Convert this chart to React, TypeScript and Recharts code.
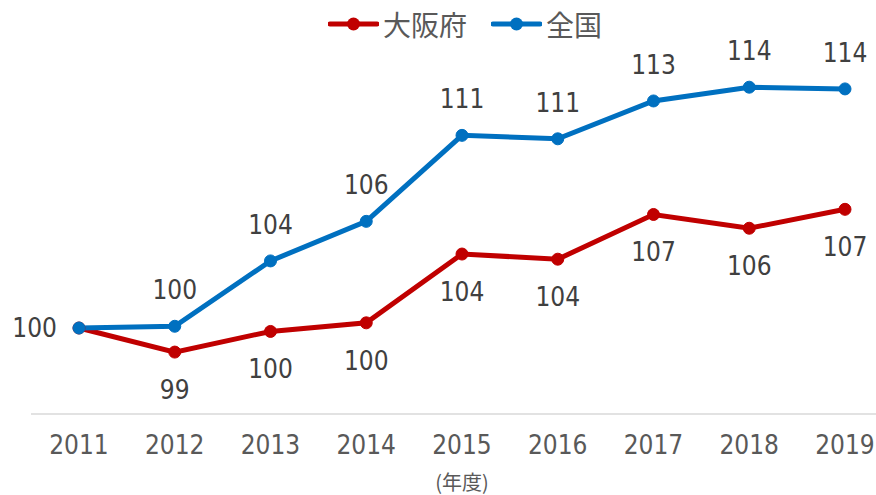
import { LineChart, Line, XAxis, YAxis, LabelList } from "recharts";

const years = ["2011", "2012", "2013", "2014", "2015", "2016", "2017", "2018", "2019"];
const osaka = [100, 98.6, 99.8, 100.3, 104.3, 104.0, 106.6, 105.8, 106.9];
const zenkoku = [100, 100.1, 103.9, 106.2, 111.2, 111.0, 113.2, 114.0, 113.9];

const RED = "#C00000";
const BLUE = "#0070C0";
const NUM_FONT = "'DejaVu Sans Condensed', 'DejaVu Sans', sans-serif";
const JP_FONT = "'Noto Sans CJK JP', sans-serif";

const chartData = years.map((y, i) => ({ year: y, osaka: osaka[i], zenkoku: zenkoku[i] }));

// labels: 全国 above (first one to the left), 大阪府 below (first one skipped)
const makeLabel = (where: "above" | "below") => (props: any) => {
    const { x, y, value, index } = props;
    if (where === "below" && index === 0) return null;
    let tx = x;
    let ty = where === "above" ? y - 36 : y + 38;
    let anchor: "middle" | "end" = "middle";
    if (where === "above" && index === 0) {
        tx = x - 22;
        ty = y;
        anchor = "end";
    }
    return (
        <text
            x={tx}
            y={ty}
            textAnchor={anchor}
            dominantBaseline="central"
            fill="#404040"
            fontSize={26}
            fontFamily={NUM_FONT}
        >
            {Math.round(value)}
        </text>
    );
};

const LegendItem = ({ color, label }: { color: string; label: string }) => (
    <div style={{ display: "flex", alignItems: "center", gap: 4 }}>
        <svg width={51} height={14}>
            <line x1={2} y1={7} x2={49} y2={7} stroke={color} strokeWidth={5} strokeLinecap="round" />
            <circle cx={25.5} cy={7} r={6.5} fill={color} />
        </svg>
        <span style={{ fontFamily: JP_FONT, fontSize: 28, color: "#595959", lineHeight: "30px" }}>{label}</span>
    </div>
);

export default function App() {
    return (
        <div style={{ position: "absolute", left: 0, top: 0, width: 876, height: 495, background: "#fff" }}>
            <div
                style={{
                    position: "absolute",
                    top: 9,
                    left: 328,
                    display: "flex",
                    alignItems: "center",
                    gap: 24,
                }}
            >
                <LegendItem color={RED} label="大阪府" />
                <LegendItem color={BLUE} label="全国" />
            </div>
            <LineChart width={876} height={495} data={chartData} margin={{ top: 70, right: 0, left: 31, bottom: 0 }}>
                <XAxis
                    dataKey="year"
                    height={81}
                    padding={{ left: 48, right: 31 }}
                    axisLine={{ stroke: "#D9D9D9", strokeWidth: 1.5 }}
                    tickLine={false}
                    tickMargin={16}
                    interval={0}
                    tick={{ fill: "#595959", fontSize: 26, fontFamily: NUM_FONT }}
                />
                <YAxis hide domain={[95, 115]} />
                <Line
                    dataKey="osaka"
                    stroke={RED}
                    strokeWidth={5}
                    dot={{ r: 6, fill: RED, stroke: RED, strokeWidth: 1 }}
                    isAnimationActive={false}
                >
                    <LabelList dataKey="osaka" content={makeLabel("below")} />
                </Line>
                <Line
                    dataKey="zenkoku"
                    stroke={BLUE}
                    strokeWidth={5}
                    dot={{ r: 6, fill: BLUE, stroke: BLUE, strokeWidth: 1 }}
                    isAnimationActive={false}
                >
                    <LabelList dataKey="zenkoku" content={makeLabel("above")} />
                </Line>
            </LineChart>
            <div
                style={{
                    position: "absolute",
                    top: 471,
                    left: 412,
                    width: 100,
                    textAlign: "center",
                    fontFamily: JP_FONT,
                    fontSize: 20,
                    color: "#595959",
                    lineHeight: "22px",
                }}
            >
                (年度)
            </div>
        </div>
    );
}
